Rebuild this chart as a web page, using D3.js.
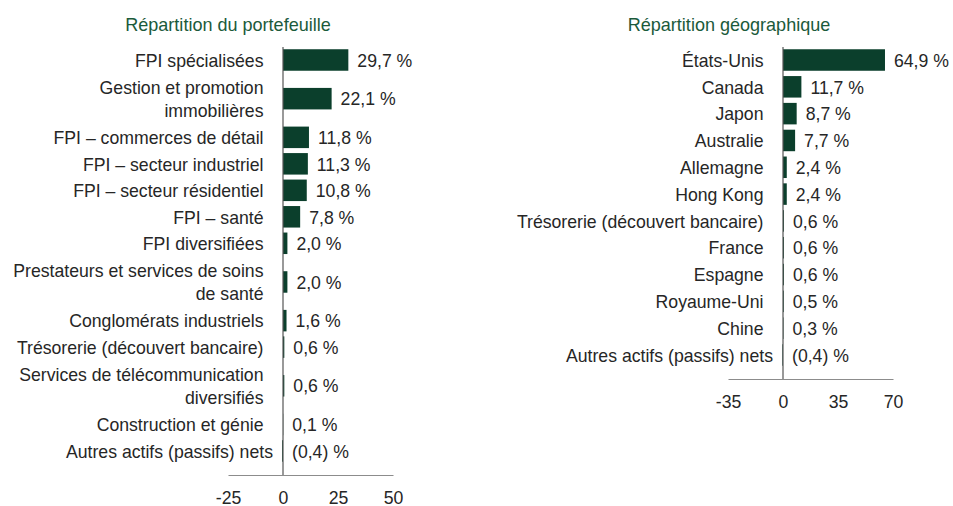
<!DOCTYPE html>
<html>
<head>
<meta charset="utf-8">
<script src="https://cdn.jsdelivr.net/npm/d3@7"></script>
<style>
  body { margin: 0; background: #fff; }
  svg text { font-family: "Liberation Sans", Arial, sans-serif; }
</style>
</head>
<body>
<div id="d3-container"></div>
<script>
const portfolioCategories = [
  "FPI spécialisées",
  "Gestion et promotion\nimmobilières",
  "FPI – commerces de détail",
  "FPI – secteur industriel",
  "FPI – secteur résidentiel",
  "FPI – santé",
  "FPI diversifiées",
  "Prestateurs et services de soins\nde santé",
  "Conglomérats industriels",
  "Trésorerie (découvert bancaire)",
  "Services de télécommunication\ndiversifiés",
  "Construction et génie",
  "Autres actifs (passifs) nets"
];
const portfolioValues = [29.7, 22.1, 11.8, 11.3, 10.8, 7.8, 2.0, 2.0, 1.6, 0.6, 0.6, 0.1, -0.4];
const portfolioTicks = [-25, 0, 25, 50];

const geoCategories = [
  "États-Unis",
  "Canada",
  "Japon",
  "Australie",
  "Allemagne",
  "Hong Kong",
  "Trésorerie (découvert bancaire)",
  "France",
  "Espagne",
  "Royaume-Uni",
  "Chine",
  "Autres actifs (passifs) nets"
];
const geoValues = [64.9, 11.7, 8.7, 7.7, 2.4, 2.4, 0.6, 0.6, 0.6, 0.5, 0.3, -0.4];
const geoTicks = [-35, 0, 35, 70];

const width = 953;
const height = 506;
const barColor = '#0b3f2c';
const titleColor = '#1b5a3b';
const textColor = '#262626';
const fontSize = 18.6;
const squeeze = 0.95; // narrow font look
const barHeight = 21.5;

const svg = d3.select('#d3-container')
  .append('svg')
  .attr('width', width)
  .attr('height', height);

function formatValue(v) {
  const s = d3.format('.1f')(Math.abs(v)).replace('.', ',');
  return v < 0 ? `(${s}) %` : `${s} %`;
}

function at(px, py) {
  return `translate(${px},${py}) scale(${squeeze},1)`;
}

function drawChart(opts) {
  const rows = opts.categories.map((c, i) => ({ lines: c.split('\n'), value: opts.values[i] }));
  // a two-line label takes almost two rows
  let acc = 0;
  rows.forEach(r => {
    r.weight = r.lines.length > 1 ? 1.92 : 1;
    r.mid = acc + r.weight / 2;
    acc += r.weight;
  });

  const x = d3.scaleLinear()
    .domain(d3.extent(opts.ticks))
    .range(opts.xRange);

  const y = d3.scaleLinear()
    .domain([0, acc])
    .range(opts.yRange);

  const g = svg.append('g');

  g.append('text')
    .attr('transform', at(opts.titleX, 31))
    .attr('text-anchor', 'middle')
    .attr('fill', titleColor)
    .attr('font-size', 19)
    .text(opts.title);

  // bars
  g.append('g')
    .attr('fill', barColor)
    .selectAll('rect')
    .data(rows)
    .join('rect')
    .attr('x', d => x(Math.min(0, d.value)))
    .attr('y', d => y(d.mid) - barHeight / 2)
    .attr('width', d => Math.abs(x(d.value) - x(0)))
    .attr('height', barHeight);

  // category labels
  const labels = g.append('g')
    .attr('fill', textColor)
    .attr('font-size', fontSize)
    .attr('text-anchor', 'end')
    .selectAll('text')
    .data(rows)
    .join('text')
    .attr('transform', d => at(x(0) - (d.value < 0 ? 10 : 19.5), y(d.mid)));

  labels.selectAll('tspan')
    .data(d => d.lines.map((l, i) => ({ text: l, i, n: d.lines.length })))
    .join('tspan')
    .attr('x', 0)
    .attr('y', t => (t.i - (t.n - 1) / 2) * 22.4 + 6.7)
    .text(t => t.text);

  // value labels
  g.append('g')
    .attr('fill', textColor)
    .attr('font-size', fontSize)
    .selectAll('text')
    .data(rows)
    .join('text')
    .attr('transform', d => at(x(Math.max(0, d.value)) + 9, y(d.mid) + 6.7))
    .text(d => formatValue(d.value));

  // zero line
  g.append('line')
    .attr('x1', x(0)).attr('x2', x(0))
    .attr('y1', 47).attr('y2', opts.axisY)
    .attr('stroke', '#555')
    .attr('stroke-width', 1.2);

  // x axis
  const axis = g.append('g')
    .attr('transform', `translate(0,${opts.axisY})`)
    .call(d3.axisBottom(x)
      .tickValues(opts.ticks)
      .tickSize(0)
      .tickSizeOuter(0)
      .tickPadding(15.5)
      .tickFormat(d => String(d)));

  axis.select('.domain').attr('stroke', '#8c8c8c').attr('stroke-width', 1.2);
  axis.selectAll('text')
    .attr('fill', textColor)
    .attr('font-size', fontSize)
    .attr('font-family', null)
    .attr('transform', `scale(${squeeze},1)`);
}

drawChart({
  title: 'Répartition du portefeuille',
  categories: portfolioCategories,
  values: portfolioValues,
  ticks: portfolioTicks,
  xRange: [228, 393],
  yRange: [46.75, 464.2],
  axisY: 475,
  titleX: 228
});

drawChart({
  title: 'Répartition géographique',
  categories: geoCategories,
  values: geoValues,
  ticks: geoTicks,
  xRange: [728, 893],
  yRange: [46.6, 368.4],
  axisY: 379,
  titleX: 729
});
</script>
</body>
</html>
